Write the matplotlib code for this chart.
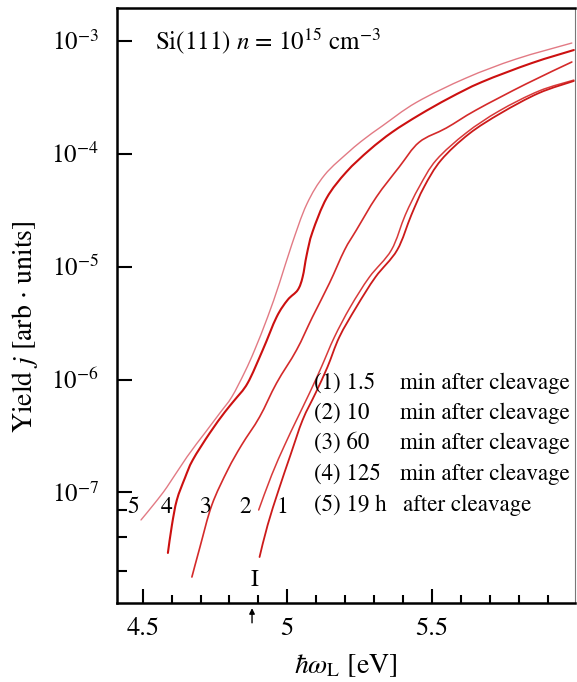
import numpy as np
import matplotlib
matplotlib.use("Agg")
import matplotlib.pyplot as plt
from matplotlib.ticker import FixedLocator, FixedFormatter, NullFormatter
from matplotlib.path import Path
from matplotlib.patches import PathPatch
import matplotlib.transforms as mtransforms

plt.rcParams['font.family'] = ['STIXGeneral', 'Liberation Serif', 'DejaVu Serif']
plt.rcParams['mathtext.fontset'] = 'stix'

# ---- data (photon energy in eV, log10 of yield) ----
x5 = [4.494, 4.542, 4.584, 4.653, 4.715, 4.767, 4.808, 4.853, 4.887, 4.932, 4.973, 5.015,
      5.067, 5.129, 5.215, 5.267, 5.329, 5.446, 5.618, 5.791, 5.984]
lg5 = [-7.243, -7.093, -6.951, -6.685, -6.473, -6.296, -6.154, -5.933, -5.739, -5.447, -5.146, -4.810,
       -4.450, -4.190, -3.980, -3.870, -3.755, -3.548, -3.332, -3.164, -3.022]

x4 = [4.587, 4.601, 4.618, 4.646, 4.673, 4.732, 4.784, 4.818, 4.863, 4.915, 4.963, 5.001, 5.036,
      5.053, 5.067, 5.087, 5.136, 5.204, 5.284, 5.363, 5.456, 5.560, 5.673, 5.846, 5.991]
lg4 = [-7.535, -7.288, -7.066, -6.871, -6.712, -6.473, -6.288, -6.181, -6.031, -5.739, -5.447, -5.296, -5.208,
       -5.093, -4.898, -4.695, -4.394, -4.164, -3.969, -3.810, -3.659, -3.509, -3.367, -3.199, -3.084]

x3 = [4.670, 4.698, 4.739, 4.794, 4.842, 4.904, 4.963, 5.032, 5.087, 5.146, 5.198, 5.239, 5.308,
      5.387, 5.456, 5.550, 5.653, 5.825, 5.984]
lg3 = [-7.748, -7.482, -7.111, -6.800, -6.580, -6.332, -6.031, -5.739, -5.447, -5.146, -4.854, -4.677, -4.385,
       -4.119, -3.900, -3.774, -3.615, -3.385, -3.190]

x2 = [4.901, 4.946, 4.991, 5.032, 5.077, 5.118, 5.163, 5.218, 5.284, 5.360, 5.408, 5.456, 5.515,
      5.618, 5.732, 5.870, 5.991]
lg2 = [-7.155, -6.845, -6.580, -6.358, -6.119, -5.889, -5.624, -5.358, -5.093, -4.854, -4.544, -4.296, -4.058,
       -3.819, -3.624, -3.447, -3.350]

x1 = [4.904, 4.932, 4.970, 5.011, 5.053, 5.098, 5.139, 5.180, 5.239, 5.305, 5.380, 5.429, 5.473,
      5.532, 5.628, 5.739, 5.870, 5.991]
lg1 = [-7.571, -7.288, -6.978, -6.668, -6.358, -6.119, -5.889, -5.624, -5.358, -5.093, -4.854, -4.544, -4.296,
       -4.058, -3.827, -3.642, -3.465, -3.358]

curve_labels = ['1', '2', '3', '4', '5']
curve_label_x = [4.984, 4.853, 4.715, 4.584, 4.467]
legend_nums = ['(1) 1.5', '(2) 10', '(3) 60', '(4) 125', '(5) 19 h']
legend_tails = ['min after cleavage'] * 4 + ['after cleavage']

xticks_major = [4.5, 5.0, 5.5]
xtick_labels = ['4.5', '5', '5.5']
xticks_minor = [4.6, 4.7, 4.8, 4.9, 5.1, 5.2, 5.3, 5.4, 5.6, 5.7, 5.8, 5.9]
yticks_major = [1e-3, 1e-4, 1e-5, 1e-6, 1e-7]
ytick_labels = [r'$10^{-3}$', r'$10^{-4}$', r'$10^{-5}$', r'$10^{-6}$', r'$10^{-7}$']
yticks_minor = [7e-8, 4e-8, 2e-8]
marker_I = 4.878


def smooth_path(xs, lgs):
    """Catmull-Rom curve through the read points, as cubic Bezier segments."""
    P = np.column_stack([xs, lgs])
    n = len(P)
    verts = [P[0]]
    codes = [Path.MOVETO]
    for i in range(n - 1):
        p0 = P[i - 1] if i > 0 else P[i]
        p1 = P[i]
        p2 = P[i + 1]
        p3 = P[i + 2] if i + 2 < n else P[i + 1]
        c1 = p1 + (p2 - p0) / 6.0
        c2 = p2 - (p3 - p1) / 6.0
        verts += [c1, c2, p2]
        codes += [Path.CURVE4] * 3
    V = np.array(verts)
    V[:, 1] = 10 ** V[:, 1]
    return Path(V, codes)


W, H = 577, 682
fig = plt.figure(figsize=(W / 100, H / 100), dpi=100)
ax = fig.add_axes([117 / W, 1 - 603 / H, (575 - 117) / W, (603 - 8) / H])

ax.set_yscale('log')
ax.set_xlim(4.411, 5.995)
ax.set_ylim(10 ** -7.978, 10 ** -2.712)

styles = [
    (x5, lg5, '#e27a84', 1.0),
    (x4, lg4, '#cc1010', 1.5),
    (x3, lg3, '#d42a2a', 1.2),
    (x2, lg2, '#d83a3a', 1.1),
    (x1, lg1, '#cc1a1a', 1.3),
]
for xs, lgs, col, lw in styles:
    ax.add_patch(PathPatch(smooth_path(xs, lgs), fill=False, edgecolor=col, lw=lw,
                           capstyle='round', joinstyle='round'))

for s in ['left', 'bottom', 'top']:
    ax.spines[s].set_linewidth(1.8)
ax.spines['right'].set_linewidth(0.8)
ax.spines['right'].set_color('#777777')

ax.xaxis.set_major_locator(FixedLocator(xticks_major))
ax.xaxis.set_major_formatter(FixedFormatter(xtick_labels))
ax.xaxis.set_minor_locator(FixedLocator(xticks_minor))
ax.yaxis.set_major_locator(FixedLocator(yticks_major))
ax.yaxis.set_major_formatter(FixedFormatter(ytick_labels))
ax.yaxis.set_minor_locator(FixedLocator(yticks_minor))
ax.yaxis.set_minor_formatter(NullFormatter())

ax.tick_params(axis='both', which='both', direction='in', width=1.5)
ax.tick_params(axis='x', which='major', length=10, pad=10, labelsize=19)
ax.tick_params(axis='x', which='minor', length=6)
ax.tick_params(axis='y', which='major', length=11, pad=13, labelsize=18)
ax.tick_params(axis='y', which='minor', length=7)
ax.tick_params(top=False, right=False, which='both')

ax.set_xlabel(r'$\hbar\omega_{\mathrm{L}}$ [eV]', fontsize=20, labelpad=8)
fig.text(25 / W, 1 - 327 / H, r'Yield $j$ [arb $\cdot$ units]', rotation=90,
         ha='center', va='center', fontsize=20)

ax.text(0.083, 0.945, r'Si(111) $n$ = 10$^{15}$ cm$^{-3}$', transform=ax.transAxes,
        fontsize=18, ha='left', va='center')

# curve number labels
for lab, xl in zip(curve_labels, curve_label_x):
    ax.text(xl, 10 ** -7.135, lab, fontsize=17, ha='center', va='center')

# legend text
ys = [383, 413, 443, 474, 505]
tail_x = [400, 400, 400, 400, 403]
for t, tail, yp, tx in zip(legend_nums, legend_tails, ys, tail_x):
    ax.text((314 - 117) / 458, 1 - (yp - 8) / 595, t, transform=ax.transAxes,
            fontsize=16.5, ha='left', va='center')
    ax.text((tx - 117) / 458, 1 - (yp - 8) / 595, tail, transform=ax.transAxes,
            fontsize=16.5, ha='left', va='center')

# marker I with arrow below the axis
ax.text(marker_I + 0.01, 10 ** -7.78, 'I', fontsize=17, ha='center', va='center')
trans = mtransforms.blended_transform_factory(ax.transData, ax.transAxes)
ax.annotate('', xy=(marker_I, -0.004), xycoords=trans, xytext=(marker_I, -0.038),
            textcoords=trans, annotation_clip=False,
            arrowprops=dict(arrowstyle='-|>', color='black', lw=1.0, mutation_scale=8))

fig.savefig('out.png', dpi=100)
